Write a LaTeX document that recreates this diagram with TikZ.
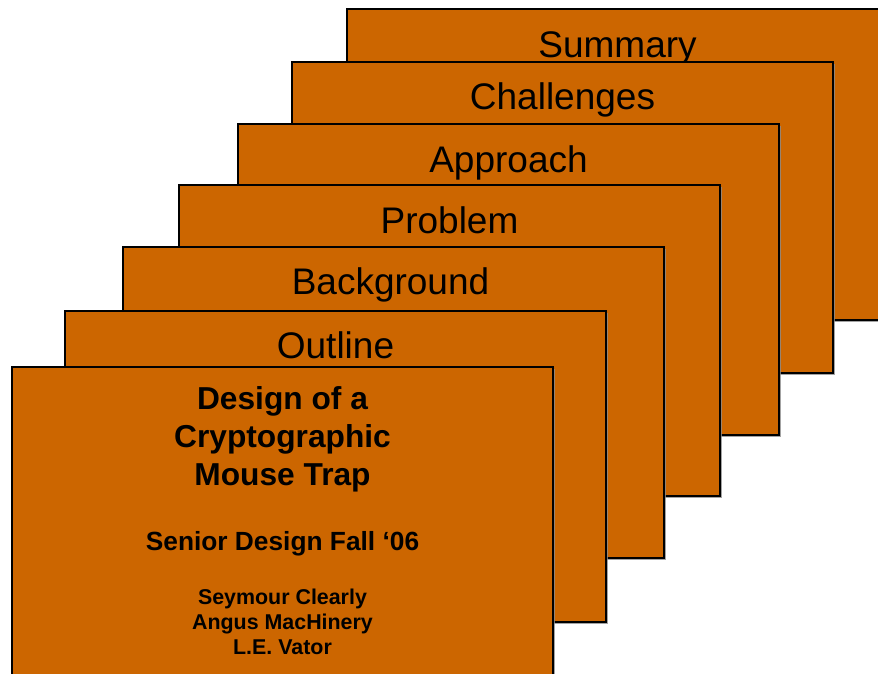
\documentclass[tikz,border=0pt]{standalone}
\usepackage{fontspec}
\setmainfont{Liberation Sans}
\usetikzlibrary{shadows}
\definecolor{cardfill}{HTML}{CC6600}
\tikzset{
  card/.style={draw=black, line width=1.3pt, fill=cardfill, minimum width=541pt, minimum height=311pt,
    anchor=north west, inner sep=0pt, outer sep=0pt,
    drop shadow={shadow xshift=1.6pt, shadow yshift=-1.6pt, fill=black!45, opacity=0.8}},
  lbl/.style={anchor=base, inner sep=0pt, font=\fontsize{37}{37}\selectfont},
  tbig/.style={anchor=base, inner sep=0pt, font=\fontsize{31.7}{31.7}\selectfont\bfseries},
  tmid/.style={anchor=base, inner sep=0pt, font=\fontsize{26.3}{26.3}\selectfont\bfseries},
  tsmall/.style={anchor=base, inner sep=0pt, font=\fontsize{21.4}{21.4}\selectfont\bfseries}
}
\begin{document}
\begin{tikzpicture}[x=1pt,y=-1pt]
\useasboundingbox (0,0) rectangle (878,674);
\clip (0,0) rectangle (878,674);
\node[card] (c7) at (347,9) {};
\node[lbl] (t7) at ([yshift=-49pt]c7.north) {Summary};
\node[card] (c6) at (292,62) {};
\node[lbl] (t6) at ([yshift=-48pt]c6.north) {Challenges};
\node[card] (c5) at (238,124) {};
\node[lbl] (t5) at ([yshift=-48pt]c5.north) {Approach};
\node[card] (c4) at (179,185) {};
\node[lbl] (t4) at ([yshift=-48pt]c4.north) {Problem};
\node[card] (c3) at (123,247) {};
\node[lbl] (t3) at ([xshift=-3pt,yshift=-47pt]c3.north) {Background};
\node[card] (c2) at (65,311) {};
\node[lbl] (t2) at ([yshift=-47pt]c2.north) {Outline};
\node[card] (c1) at (12,367) {};
\node[tbig] (d1) at (282.5,409) {Design of a};
\node[tbig] (d2) at (282.5,447) {Cryptographic};
\node[tbig] (d3) at (282.5,485) {Mouse Trap};
\node[tmid] (s1) at (282.5,550) {Senior Design Fall ‘06};
\node[tsmall] (a1) at (282.5,604) {Seymour Clearly};
\node[tsmall] (a2) at (282.5,629) {Angus MacHinery};
\node[tsmall] (a3) at (282.5,654) {L.E. Vator};
\end{tikzpicture}
\end{document}
